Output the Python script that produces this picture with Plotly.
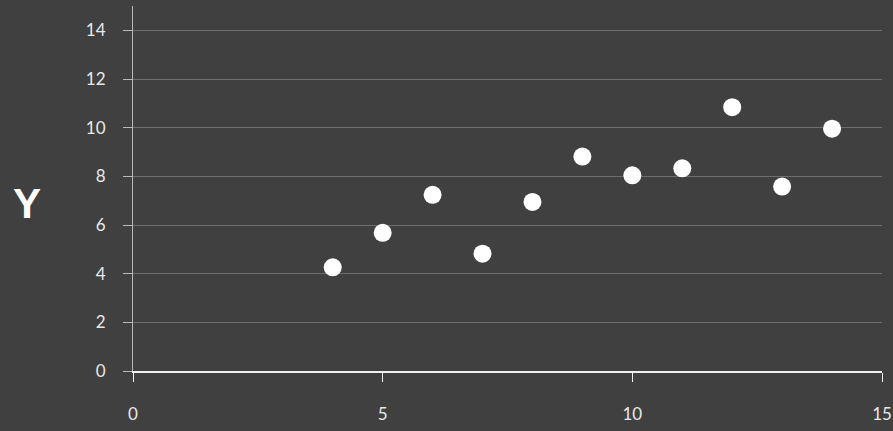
import plotly.graph_objects as go

x_values = [10, 8, 13, 9, 11, 14, 6, 4, 12, 7, 5]
y_values = [8.04, 6.95, 7.58, 8.81, 8.33, 9.96, 7.24, 4.26, 10.84, 4.82, 5.68]
x_ticks = [0, 5, 10, 15]
y_ticks = [0, 2, 4, 6, 8, 10, 12, 14]

bg = "#404040"
fig = go.Figure(go.Scatter(
    x=x_values, y=y_values, mode="markers",
    marker=dict(size=18, color="white", line=dict(width=0)),
))
fig.update_layout(
    width=893, height=431,
    paper_bgcolor=bg, plot_bgcolor=bg,
    margin=dict(l=133, r=11, t=6, b=60),
    showlegend=False,
    font=dict(family="Lato, sans-serif", color="#e8e8e8", size=17),
)
fig.update_xaxes(
    range=[0, 15], tickvals=x_ticks, showgrid=False, zeroline=False,
    showline=True, linecolor="#f0f0f0", linewidth=1.5,
    ticks="outside", ticklen=9, tickcolor="#f0f0f0", tickwidth=1,
    ticklabelstandoff=18, automargin=False,
)
fig.update_yaxes(
    range=[0, 15], tickvals=y_ticks, showgrid=True, gridcolor="#6e6e6e", gridwidth=1,
    zeroline=False, showline=True, linecolor="#b8b8b8", linewidth=1,
    ticks="outside", ticklen=9, tickcolor="#b8b8b8", tickwidth=1,
    ticklabelstandoff=14, automargin=False,
)
fig.add_annotation(
    text="<b>Y</b>", xref="paper", yref="paper", x=-0.146, xshift=-13, y=0.46,
    showarrow=False, font=dict(size=42, color="white", family="Liberation Sans, Arial, sans-serif"),
)
fig.write_html(
    "out.html",
    config={"displayModeBar": False},
    post_script="document.body.style.margin='0';document.body.style.background='#404040';",
)
